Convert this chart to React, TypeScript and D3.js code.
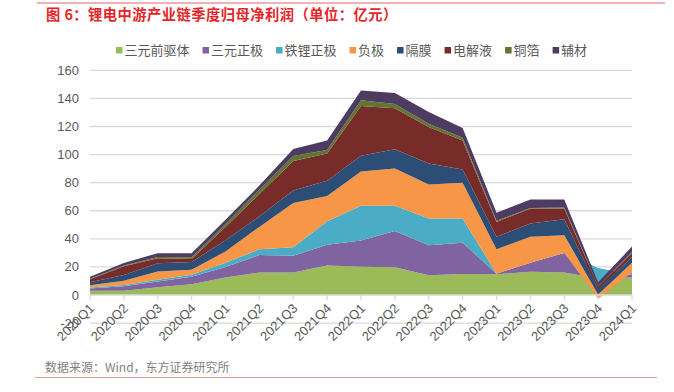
import React, { useEffect, useRef } from 'react';
import * as d3 from 'd3';

const quarters = [
  '2020Q1', '2020Q2', '2020Q3', '2020Q4',
  '2021Q1', '2021Q2', '2021Q3', '2021Q4',
  '2022Q1', '2022Q2', '2022Q3', '2022Q4',
  '2023Q1', '2023Q2', '2023Q3', '2023Q4',
  '2024Q1',
];

// 归母净利润 (亿元)
const precursor = [3, 3.1, 5.6, 7.7, 12.5, 16, 16, 21, 20.1, 19.8, 14, 15, 14.7, 16.6, 16, 12, 12.5];
const ncmCathode = [1.7, 3.2, 4.1, 5.3, 7.5, 12.5, 12, 14.8, 18.7, 25.7, 21.5, 22.2, 0.5, 6.4, 14, 7, 2];
const lfpCathode = [0.6, 0.9, 1.1, 1.4, 3, 4, 6, 16.7, 24.7, 18, 19, 17.3, 0, 0, 0, -21.5, 1.5];
const anode = [1.7, 3, 6, 3.6, 8, 16, 31.5, 18, 24.5, 26.5, 24.2, 25.5, 17.3, 18.5, 12.6, 3, 7];
const separator = [2, 4.1, 5.8, 5.5, 8, 7.5, 9, 10.8, 11.2, 13.8, 14.9, 9.3, 9, 9.5, 11.4, 3.5, 4];
const electrolyte = [2.2, 6.2, 3.6, 2.1, 9.5, 16, 21, 19.4, 35.3, 29.2, 26.1, 20.7, 10.5, 10.6, 7.6, 2, 3];
const copperFoil = [0.4, 0.5, 0.8, 1.2, 2, 3, 3.5, 2.6, 4.1, 3, 2.3, 2, 0.8, 0.4, 0.7, 0.5, 0.5];
const auxiliary = [1.4, 1.8, 2.8, 3, 3, 3, 5, 6.7, 7, 7.8, 8.3, 7, 5.7, 6, 5.7, 2.5, 4];

const seriesNames = ['三元前驱体', '三元正极', '铁锂正极', '负极', '隔膜', '电解液', '铜箔', '辅材'];
const seriesValues = [precursor, ncmCathode, lfpCathode, anode, separator, electrolyte, copperFoil, auxiliary];
const seriesColors = ['#9BBB59', '#8064A2', '#4BACC6', '#F79646', '#2C4D75', '#772C2A', '#5F7530', '#4D3B62'];

const yTicks = [-20, 0, 20, 40, 60, 80, 100, 120, 140, 160];

const W = 674;
const H = 392;
const FONT = '"Liberation Sans", Arial, "Noto Sans CJK SC", sans-serif';
const CJK = '"Noto Sans CJK SC", sans-serif';

export default function App() {
  const svgRef = useRef<SVGSVGElement>(null);

  useEffect(() => {
    if (!svgRef.current) return;
    const svg = d3.select(svgRef.current);
    svg.selectAll('*').remove();

    const x = d3.scalePoint<string>().domain(quarters).range([90, 632]);
    const y = d3.scaleLinear().domain([-20, 160]).range([323.1, 70.3]);

    // table for d3.stack
    const rows = quarters.map((q, i) => {
      const r: Record<string, number | string> = { q };
      seriesNames.forEach((n, j) => { r[n] = seriesValues[j][i]; });
      return r;
    });
    const stacked = d3.stack<any>().keys(seriesNames).offset(d3.stackOffsetNone)(rows);

    // header
    svg.append('line')
      .attr('x1', 37).attr('x2', 665).attr('y1', 3).attr('y2', 3)
      .attr('stroke', '#E06666').attr('stroke-width', 1);
    svg.append('text')
      .attr('x', 46).attr('y', 19.5)
      .style('font-family', CJK)
      .style('font-size', '14.3px')
      .style('font-weight', 'bold')
      .style('letter-spacing', '0.45px')
      .style('fill', '#E5252A')
      .text('图 6：锂电中游产业链季度归母净利润（单位：亿元）');

    // legend
    let lx = 116;
    seriesNames.forEach((n, i) => {
      svg.append('rect')
        .attr('x', lx).attr('y', 47).attr('width', 6.5).attr('height', 6.5)
        .attr('fill', seriesColors[i]);
      const t = svg.append('text')
        .attr('x', lx + 8.5).attr('y', 54.5)
        .style('font-family', CJK)
        .style('font-size', '13px')
        .style('fill', '#595959')
        .text(n);
      const w = (t.node() as SVGTextElement).getComputedTextLength();
      lx += 8.5 + w + 13;
    });

    // grid
    svg.append('g').selectAll('line')
      .data(yTicks.filter(t => t !== 0))
      .enter().append('line')
      .attr('x1', 90).attr('x2', 632)
      .attr('y1', d => y(d)).attr('y2', d => y(d))
      .attr('stroke', '#D9D9D9').attr('stroke-width', 1.3);

    // areas
    const area = d3.area<any>()
      .x((d) => x(d.data.q) as number)
      .y0(d => y(d[0]))
      .y1(d => y(d[1]));
    svg.append('g').selectAll('path')
      .data(stacked)
      .enter().append('path')
      .attr('d', d => area(d as any) as string)
      .attr('fill', (_, i) => seriesColors[i]);

    // x axis at zero
    const xAxis = svg.append('g');
    xAxis.append('line')
      .attr('x1', 90).attr('x2', 632).attr('y1', y(0)).attr('y2', y(0))
      .attr('stroke', '#D9D9D9').attr('stroke-width', 1.3);
    xAxis.selectAll('line.tick')
      .data(quarters)
      .enter().append('line')
      .attr('class', 'tick')
      .attr('x1', d => x(d) as number).attr('x2', d => x(d) as number)
      .attr('y1', y(0)).attr('y2', y(0) + 5)
      .attr('stroke', '#D9D9D9').attr('stroke-width', 1.3);

    // y labels
    svg.append('g').selectAll('text')
      .data(yTicks)
      .enter().append('text')
      .attr('x', 79).attr('y', d => y(d) + 4.5)
      .attr('text-anchor', 'end')
      .style('font-family', FONT)
      .style('font-size', '13px')
      .style('fill', '#595959')
      .text(d => d);

    // x labels
    svg.append('g').selectAll('text')
      .data(quarters)
      .enter().append('text')
      .attr('transform', d => `translate(${(x(d) as number) + 5},${y(0) + 14}) rotate(-45)`)
      .attr('text-anchor', 'end')
      .style('font-family', FONT)
      .style('font-size', '13px')
      .style('fill', '#595959')
      .text(d => d);

    // footer
    svg.append('text')
      .attr('x', 45).attr('y', 372)
      .style('font-family', CJK)
      .style('font-size', '12px')
      .style('fill', '#7F7F7F')
      .text('数据来源：Wind，东方证券研究所');
    svg.append('line')
      .attr('x1', 35).attr('x2', 657).attr('y1', 377.5).attr('y2', 377.5)
      .attr('stroke', '#EE9A9A').attr('stroke-width', 1.2);
  }, []);

  return (
    <svg
      ref={svgRef}
      width={W}
      height={H}
      style={{ position: 'absolute', left: 0, top: 0, background: '#fff' }}
    />
  );
}
